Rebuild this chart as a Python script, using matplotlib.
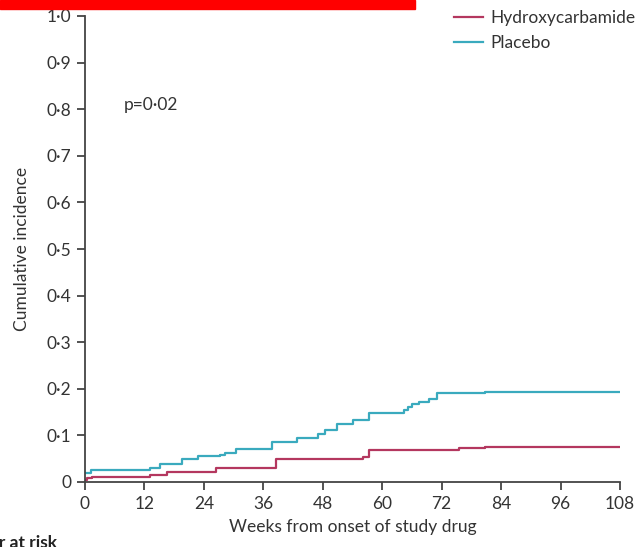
import matplotlib
matplotlib.use("Agg")
import matplotlib.pyplot as plt
from matplotlib.patches import Rectangle

plt.rcParams['font.family'] = ['Lato', 'DejaVu Sans']

# step curves: week of each step, level after the step
hydroxy_weeks = [0, 0.5, 1.5, 13.2, 16.5, 26.5, 38.5, 56.1, 57.3, 75.4, 80.7, 108]
hydroxy_inc = [0.005, 0.008, 0.011, 0.016, 0.021, 0.031, 0.050, 0.054, 0.068, 0.073, 0.076, 0.076]

placebo_weeks = [0, 1.2, 13.2, 15.2, 19.5, 22.9, 27.2, 28.3, 30.5, 37.7, 42.7, 47.1,
                 48.5, 50.9, 54.1, 57.4, 64.3, 65.2, 66.0, 67.4, 69.4, 71.1, 80.7, 107.7]
placebo_inc = [0.019, 0.025, 0.030, 0.039, 0.049, 0.055, 0.059, 0.062, 0.071, 0.085, 0.094, 0.104,
               0.112, 0.124, 0.134, 0.148, 0.154, 0.160, 0.167, 0.171, 0.178, 0.190, 0.193, 0.193]

xticks = [0, 12, 24, 36, 48, 60, 72, 84, 96, 108]
yticks = [0, 0.1, 0.2, 0.3, 0.4, 0.5, 0.6, 0.7, 0.8, 0.9, 1.0]
ylabels = ['0'] + ['{:.1f}'.format(v).replace('.', '\u00b7') for v in yticks[1:]]

fs = 12.5

fig = plt.figure(figsize=(6.38, 5.47), dpi=100)
ax = fig.add_axes([85 / 638, 65 / 547, 535 / 638, 466 / 547])

ax.step(hydroxy_weeks, hydroxy_inc, where='post', color='#b4375f', lw=1.6, label='Hydroxycarbamide')
ax.step(placebo_weeks, placebo_inc, where='post', color='#3aaabe', lw=1.6, label='Placebo')

ax.set_xlim(0, 108)
ax.set_ylim(0, 1.0)
ax.set_xticks(xticks)
ax.set_yticks(yticks)
ax.set_yticklabels(ylabels)
for s in ['top', 'right']:
    ax.spines[s].set_visible(False)
for s in ['left', 'bottom']:
    ax.spines[s].set_color('#444444')
    ax.spines[s].set_linewidth(1.3)
ax.tick_params(direction='out', length=6, width=1.3, color='#444444',
               labelsize=fs, labelcolor='#333333', pad=4)

ax.set_xlabel('Weeks from onset of study drug', fontsize=fs, color='#333333', labelpad=5)
ax.set_ylabel('Cumulative incidence', fontsize=fs, color='#333333', labelpad=12)
ax.text(7.8, 0.81, 'p=0\u00b702', fontsize=fs, color='#333333', va='center')

leg = ax.legend(loc='upper left', bbox_to_anchor=(0.69, 1.013), frameon=False, fontsize=fs,
                handlelength=1.67, handletextpad=0.4, labelspacing=0.55, borderaxespad=0,
                borderpad=0)
for t in leg.get_texts():
    t.set_color('#333333')

# red bar at the top edge and the cut-off "Number at risk" heading
fig.patches.append(Rectangle((0, 1 - 9 / 547), 415 / 638, 9 / 547, transform=fig.transFigure,
                             color='#ff0000', zorder=10))
fig.text(57 / 638, -4 / 547, 'Number at risk', fontsize=fs, fontweight='bold',
         color='#222222', ha='right', va='bottom')

fig.savefig('out.png', dpi=100)
